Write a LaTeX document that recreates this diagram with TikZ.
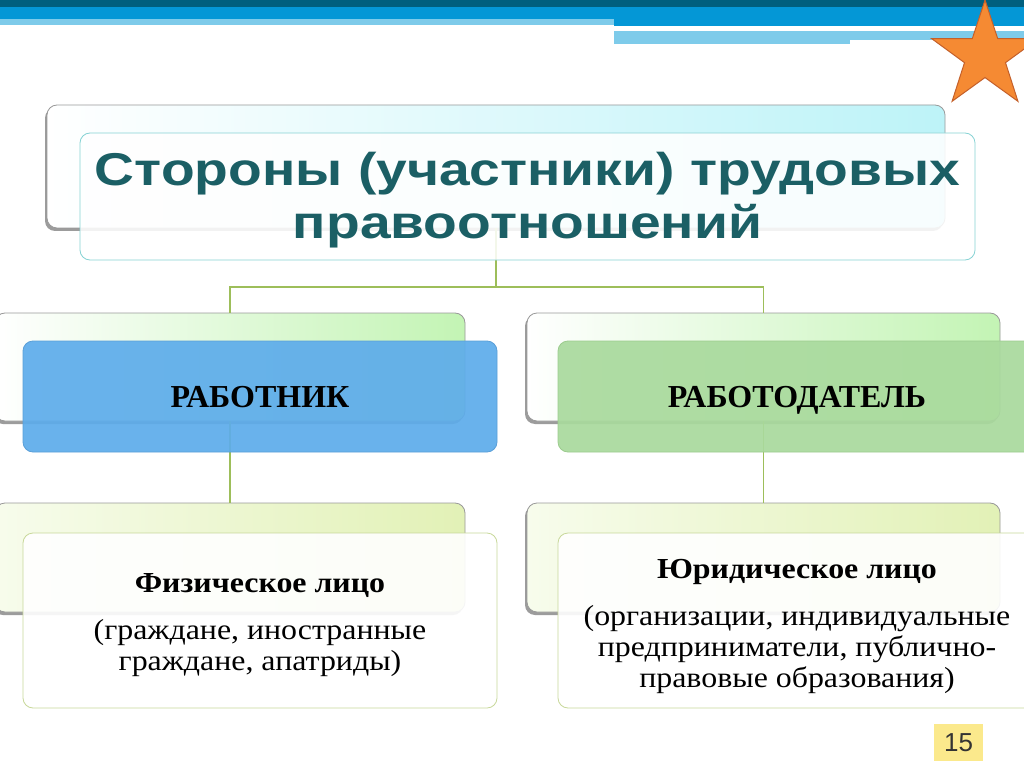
\documentclass[tikz,border=0pt]{standalone}
\usepackage{fontspec}
\setmainfont{Liberation Serif}
\newfontfamily\bodyfam{Liberation Serif}[FakeStretch=1.1]
\newfontfamily\titlefont{Liberation Sans}[FakeStretch=1.2]
\newfontfamily\pagefont{Liberation Sans}
\usetikzlibrary{shadows,shapes.geometric}
\definecolor{barDark}{HTML}{005F7E}
\definecolor{barBlue}{HTML}{0497D6}
\definecolor{barLight}{HTML}{7ECBEA}
\definecolor{titleText}{HTML}{1B5F65}
\definecolor{titleBack}{HTML}{BDF3F8}
\definecolor{titleEdge}{HTML}{86D2D4}
\definecolor{greenBack}{HTML}{C3F4B4}
\definecolor{blueBox}{HTML}{5DACEB}
\definecolor{blueEdge}{HTML}{5A9FD8}
\definecolor{greenBox}{HTML}{A9DA9D}
\definecolor{greenEdge}{HTML}{9CCB8E}
\definecolor{paleLeft}{HTML}{F7FCEC}
\definecolor{paleRight}{HTML}{E2F1B6}
\definecolor{oliveEdge}{HTML}{C8D89A}
\definecolor{linkCol}{HTML}{9DBE5A}
\definecolor{starFill}{HTML}{F58A33}
\definecolor{starEdge}{HTML}{C4602A}
\definecolor{pageYellow}{HTML}{FBE98C}
\tikzset{
  backbox/.style={rectangle, rounded corners=10pt, draw=gray!80, line width=0.8pt,
    drop shadow={shadow xshift=-2pt, shadow yshift=-3pt, opacity=0.55, fill=black!70}},
  frontbox/.style={rectangle, rounded corners=10pt, line width=0.8pt, inner sep=0pt},
  link/.style={draw=linkCol, line width=1.2pt},
  capfont/.style={font=\bfseries\fontsize{32}{34}\selectfont, text height=22pt, text depth=0pt},
  bodyfont/.style={font=\bodyfam\fontsize{29}{31}\selectfont, align=center},
}
\begin{document}
\begin{tikzpicture}[x=1pt,y=-1pt]
\useasboundingbox (0,0) rectangle (1024,767);
\fill[white] (0,0) rectangle (1024,767);
% top bars
\fill[barDark] (0,0) rectangle (1024,7);
\fill[barBlue] (0,7) rectangle (1024,19);
\fill[barLight] (0,19) rectangle (614,25);
\fill[barBlue] (614,19) rectangle (1024,26);
\fill[barLight] (614,31) rectangle (850,44);
\fill[barLight] (850,31) rectangle (1024,40);
% star
\node (star) [star, star points=5, star point ratio=2.6, inner sep=0pt, minimum size=112pt,
  fill=starFill, draw=starEdge, line width=1pt] at (985,56) {};
% connectors (behind boxes)
\coordinate (fork) at (496,287);
% title
\node (tback) [backbox, minimum width=898pt, minimum height=123pt, left color=white, right color=titleBack] at (496,166.5) {};
\draw[link] (tback.south) -- (fork);
\node (tfront) [frontbox, draw=titleEdge, fill=white, fill opacity=0.88, text opacity=1,
  minimum width=895pt, minimum height=127pt, align=center, text=titleText,
  font=\titlefont\bfseries\fontsize{46}{52}\selectfont, text height=93pt, text depth=10pt] at (527.5,196.5)
  {Стороны (участники) трудовых\\правоотношений};
% second row back boxes
\node (wback) [backbox, minimum width=470pt, minimum height=108pt, left color=white, right color=greenBack] at (230,367) {};
\node (eback) [backbox, minimum width=473pt, minimum height=108pt, left color=white, right color=greenBack] at (763.5,367) {};
\draw[link] (fork) -| (wback.north);
\draw[link] (fork) -| (eback.north);
% third row back boxes
\node (pback) [backbox, minimum width=470pt, minimum height=109pt, left color=paleLeft, right color=paleRight] at (230,557.5) {};
\node (lback) [backbox, minimum width=473pt, minimum height=109pt, left color=paleLeft, right color=paleRight] at (763.5,557.5) {};
\draw[link] (wback.south) -- (pback.north);
\draw[link] (eback.south) -- (lback.north);
% front boxes
\node (worker) [frontbox, draw=blueEdge, fill=blueBox, fill opacity=0.92, text opacity=1,
  minimum width=474pt, minimum height=111pt, capfont] at (260,396.5) {РАБОТНИК};
\node (employer) [frontbox, draw=greenEdge, fill=greenBox, fill opacity=0.92, text opacity=1,
  minimum width=478pt, minimum height=111pt, capfont] at (797,396.5) {РАБОТОДАТЕЛЬ};
\node (phys) [frontbox, draw=oliveEdge, fill=white, fill opacity=0.9, text opacity=1,
  minimum width=474pt, minimum height=175pt, bodyfont, text height=110pt, text depth=11pt] at (260,620.5)
  {{\bfseries Физическое лицо}\\[16pt](граждане, иностранные\\граждане, апатриды)};
\node (legal) [frontbox, draw=oliveEdge, fill=white, fill opacity=0.9, text opacity=1,
  minimum width=478pt, minimum height=175pt, bodyfont, text height=145pt, text depth=12pt] at (797,620.5)
  {{\bfseries Юридическое лицо}\\[16pt](организации, индивидуальные\\предприниматели, публично-\\правовые образования)};
% page number
\node (page) [rectangle, fill=pageYellow, minimum width=49pt, minimum height=37pt, inner sep=0pt,
  text=black!80, font=\pagefont\fontsize{26}{28}\selectfont] at (958.5,742.5) {15};
\end{tikzpicture}
\end{document}
